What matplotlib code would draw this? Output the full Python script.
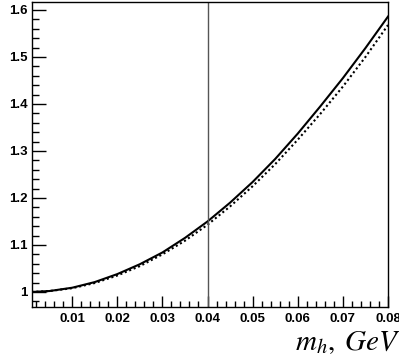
import numpy as np
import matplotlib
matplotlib.use("Agg")
import matplotlib.pyplot as plt
from matplotlib.ticker import MultipleLocator

plt.rcParams['mathtext.fontset'] = 'stix'
plt.rcParams['font.family'] = ['Liberation Sans', 'DejaVu Sans']

mh = [0.001, 0.005, 0.01, 0.015, 0.02, 0.025, 0.03, 0.035, 0.04,
      0.045, 0.05, 0.055, 0.06, 0.065, 0.07, 0.075, 0.08]
ratio_solid = [1.000, 1.002, 1.009, 1.021, 1.038, 1.059, 1.084, 1.115, 1.150,
               1.190, 1.234, 1.283, 1.337, 1.395, 1.455, 1.519, 1.586]
ratio_dotted = [1.000, 1.002, 1.008, 1.019, 1.035, 1.055, 1.080, 1.109, 1.143,
                1.182, 1.225, 1.272, 1.324, 1.379, 1.437, 1.500, 1.568]
mh_mark = 0.04

fig = plt.figure(figsize=(3.99, 3.6), dpi=100)
ax = fig.add_axes([32 / 399, 1 - 307 / 360, 356 / 399, 305 / 360])

ax.plot(mh, ratio_solid, color='black', lw=1.5)
ax.plot(mh, ratio_dotted, color='black', lw=1.5, linestyle=(0, (1, 1.3)))
ax.axvline(mh_mark, color='#555555', lw=1)

ax.set_xlim(0.0011, 0.08)
ax.set_ylim(0.968, 1.617)

ax.xaxis.set_major_locator(MultipleLocator(0.01))
ax.xaxis.set_minor_locator(MultipleLocator(0.002))
ax.yaxis.set_major_locator(MultipleLocator(0.1))
ax.yaxis.set_minor_locator(MultipleLocator(0.02))
ax.xaxis.set_major_formatter(plt.FuncFormatter(lambda v, p: f"{v:.2f}"))
ax.yaxis.set_major_formatter(plt.FuncFormatter(lambda v, p: f"{v:g}"))

ax.tick_params(which='both', direction='in', top=False, right=False,
               width=1, colors='black')
ax.tick_params(axis='y', which='major', length=10, pad=3)
ax.tick_params(axis='y', which='minor', length=5)
ax.tick_params(axis='x', which='major', length=8, pad=4)
ax.tick_params(axis='x', which='minor', length=4)
for lab in ax.get_xticklabels() + ax.get_yticklabels():
    lab.set_fontweight('bold')
    lab.set_fontsize(9.5)
for s in ax.spines.values():
    s.set_linewidth(1)

fig.text(1.005, 10 / 360, r"$m_h,\;GeV$", ha='right', va='baseline', fontsize=21)

fig.savefig("out.png", dpi=100)
